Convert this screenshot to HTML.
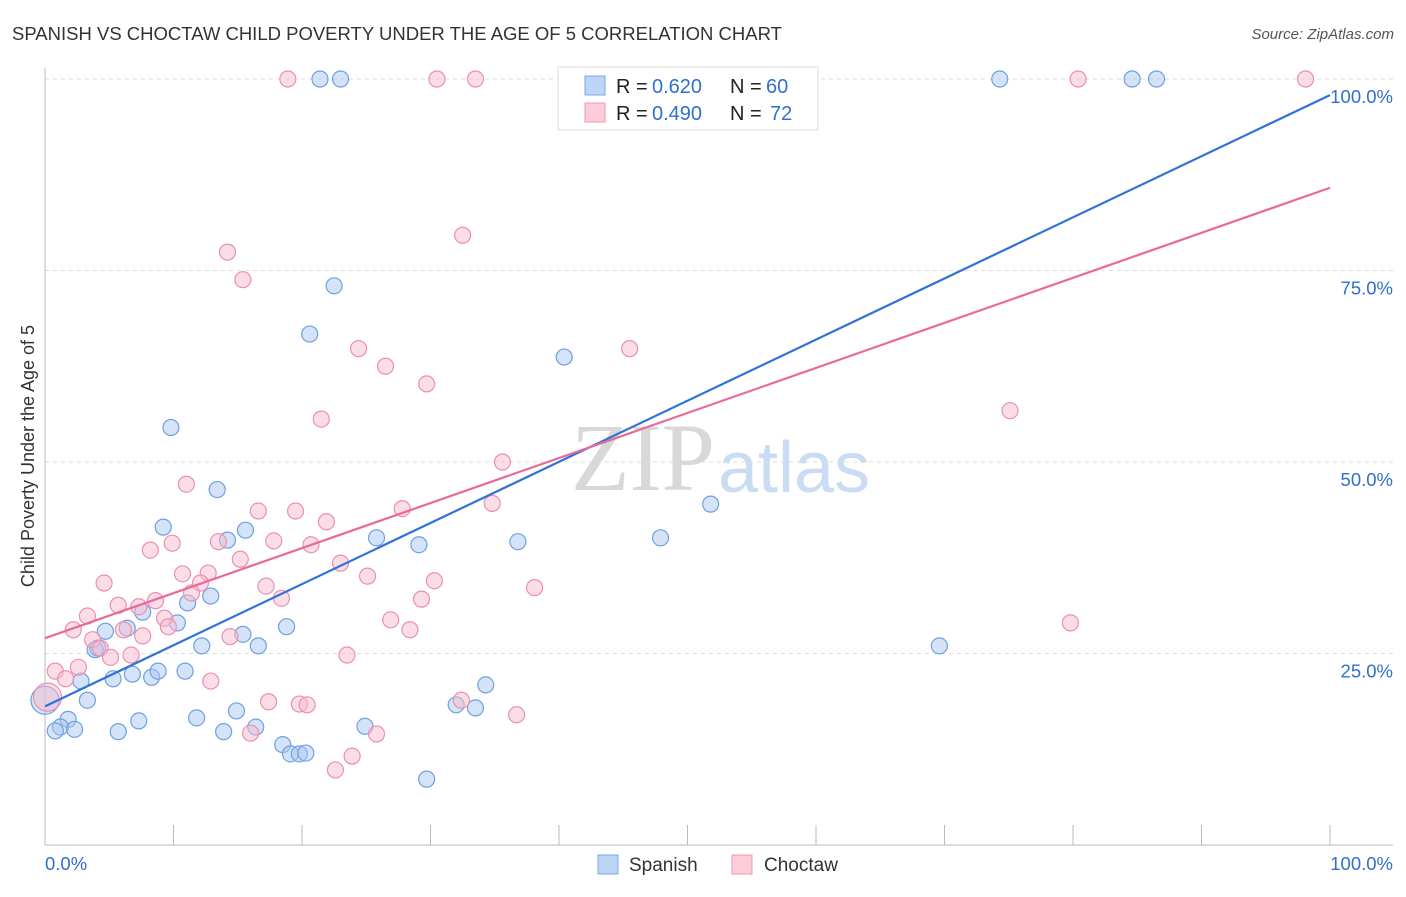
<!DOCTYPE html>
<html><head><meta charset="utf-8"><style>
body{margin:0;background:#fff;font-family:"Liberation Sans",sans-serif;}
</style></head><body>
<svg id="c" width="1406" height="892" xmlns="http://www.w3.org/2000/svg">
<text x="12" y="40" font-size="18.5" fill="#333">SPANISH VS CHOCTAW CHILD POVERTY UNDER THE AGE OF 5 CORRELATION CHART</text>
<text x="1394" y="39" font-size="15" fill="#555" font-style="italic" text-anchor="end">Source: ZipAtlas.com</text>
<text x="715" y="490" font-size="96" fill="#d8d8d8" font-family="Liberation Serif,serif" text-anchor="end">ZIP</text>
<text x="718" y="492" font-size="72" fill="#c9dcf3">atlas</text>
<text transform="translate(34,456) rotate(-90)" font-size="18" fill="#333" text-anchor="middle">Child Poverty Under the Age of 5</text>
<g id="grid"></g><g id="pts"></g><g id="lines"></g>
<g>
<rect x="558" y="67" width="260" height="63" fill="#fff" stroke="#ddd"/>
<rect x="585" y="76" width="20" height="19" fill="#bcd5f5" stroke="#7aa7e3"/>
<rect x="585" y="103" width="20" height="19" fill="#fcccd9" stroke="#ef9ab4"/>
<text x="616" y="93" font-size="20" fill="#222">R =</text>
<text x="652" y="93" font-size="20" fill="#2f6fd0">0.620</text>
<text x="730" y="93" font-size="20" fill="#222">N =</text>
<text x="766" y="93" font-size="20" fill="#2f6fd0">60</text>
<text x="616" y="120" font-size="20" fill="#222">R =</text>
<text x="652" y="120" font-size="20" fill="#2f6fd0">0.490</text>
<text x="730" y="120" font-size="20" fill="#222">N =</text>
<text x="770" y="120" font-size="20" fill="#2f6fd0">72</text>
</g>
<g>
<rect x="598" y="855" width="20" height="19" fill="#bcd5f5" stroke="#7aa7e3"/>
<text x="629" y="871" font-size="19" fill="#333">Spanish</text>
<rect x="732" y="855" width="20" height="19" fill="#fcccd9" stroke="#ef9ab4"/>
<text x="764" y="871" font-size="19" fill="#333">Choctaw</text>
</g>
</svg>
<script>
const yTicks=[25,50,75,100];
const yTickLabels=["25.0%","50.0%","75.0%","100.0%"];
const xTickLabels=["0.0%","100.0%"];
const spanishX=[21.4,23.0,55.3,74.3,84.6,86.5,22.5,20.6,40.4,9.8,13.4,51.8,9.2,15.6,14.2,25.8,47.9,36.8,29.1,69.6,7.6,11.1,12.9,10.3,6.4,4.7,18.8,15.4,16.6,12.2,4.1,3.9,2.8,5.3,6.8,8.3,8.8,10.9,34.3,0.0,3.3,1.8,1.2,2.3,0.8,5.7,7.3,11.8,14.9,13.9,16.4,24.9,32.0,33.5,18.5,19.1,19.8,20.3,29.7];
const spanishY=[100,100,100,100,100,100,73.0,66.7,63.7,54.5,46.4,44.5,41.5,41.1,39.8,40.1,40.1,39.6,39.2,26.0,30.4,31.6,32.5,29.0,28.3,27.9,28.5,27.5,26.0,26.0,25.7,25.5,21.4,21.7,22.3,21.9,22.7,22.7,20.9,18.9,18.9,16.4,15.4,15.1,14.9,14.8,16.2,16.6,17.5,14.8,15.4,15.5,18.3,17.9,13.1,11.9,11.9,12.0,8.6];
const choctawX=[18.9,30.5,33.5,80.4,98.1,32.5,14.2,15.4,24.4,45.5,26.5,29.7,21.5,75.1,35.6,11.0,34.8,16.6,19.5,27.8,21.9,9.9,13.5,17.8,20.7,8.2,15.2,23.0,25.1,30.3,10.7,12.7,4.6,12.1,17.2,38.1,18.4,11.4,8.6,5.7,7.3,29.3,3.3,9.3,9.6,26.9,28.4,6.1,2.2,79.8,7.6,14.4,3.7,4.3,5.1,6.7,23.5,0.8,2.6,1.6,12.9,17.4,19.8,20.4,32.4,36.7,16.0,25.8,23.9,22.6,0.2];
const choctawY=[100,100,100,100,100,79.6,77.4,73.8,64.8,64.8,62.5,60.2,55.6,56.7,50.0,47.1,44.6,43.6,43.6,43.9,42.2,39.4,39.6,39.7,39.2,38.5,37.3,36.8,35.1,34.5,35.4,35.5,34.2,34.2,33.8,33.6,32.2,32.9,31.9,31.3,31.1,32.1,29.9,29.6,28.5,29.4,28.1,28.1,28.1,29.0,27.3,27.2,26.8,25.7,24.5,24.8,24.8,22.7,23.2,21.7,21.4,18.7,18.4,18.3,18.9,17.0,14.6,14.5,11.6,9.8,19.3];
const spanishTrend=[18.1,97.9];
const choctawTrend=[27.0,85.8];
const NS="http://www.w3.org/2000/svg";
const X=v=>45+v*12.85, Y=v=>845-v*7.66;
function mk(t,a,p){const e=document.createElementNS(NS,t);for(const k in a)e.setAttribute(k,a[k]);p.appendChild(e);return e;}
const g=document.getElementById('grid');
yTicks.forEach((t,i)=>{
 const l=mk('line',{x1:45,x2:1393,y1:Y(t),y2:Y(t),stroke:'#ddd','stroke-dasharray':'4,4'},g);
 
 
 const tx=mk('text',{x:1393,y:Y(t)+24,'font-size':18.5,fill:'#2f6fd0','text-anchor':'end'},g);
 tx.textContent=yTickLabels[i];
 
 
});
const ax=mk('line',{x1:45,x2:1393,y1:845,y2:845,stroke:'#bbb'},g);


const ay=mk('line',{x1:45,x2:45,y1:68,y2:845,stroke:'#bbb'},g);


for(let k=0;k<=10;k++){
 const t=mk('line',{x1:X(k*10),x2:X(k*10),y1:825,y2:845,stroke:'#bbb'},g);
 
 
}
[[0,'start'],[100,'end']].forEach((d,i)=>{
 const tx=mk('text',{x:i?1393:45,y:870,'font-size':18.5,fill:'#2f6fd0','text-anchor':d[1]},g);
 tx.textContent=xTickLabels[i];
 
 
});
const p=document.getElementById('pts');
function pts(xs,ys,fill,stroke,name,bigIdx){
 xs.forEach((x,i)=>{
  const c=mk('circle',{cx:X(x),cy:Y(ys[i]),r:i===bigIdx?14:8,fill:fill,'fill-opacity':0.5,stroke:stroke,'stroke-width':1.2},p);
  
  
 });
}
pts(spanishX,spanishY,'#a9c8f0','#6fa0e0','spanish-point',39);
pts(choctawX,choctawY,'#f7bcd0','#eb90ad','choctaw-point',70);
const L=document.getElementById('lines');
const l1=mk('line',{x1:X(0),y1:Y(spanishTrend[0]),x2:X(100),y2:Y(spanishTrend[1]),stroke:'#2f73d8','stroke-width':2.2},L);


const l2=mk('line',{x1:X(0),y1:Y(choctawTrend[0]),x2:X(100),y2:Y(choctawTrend[1]),stroke:'#e8699a','stroke-width':2.2},L);


</script>
</body></html>
